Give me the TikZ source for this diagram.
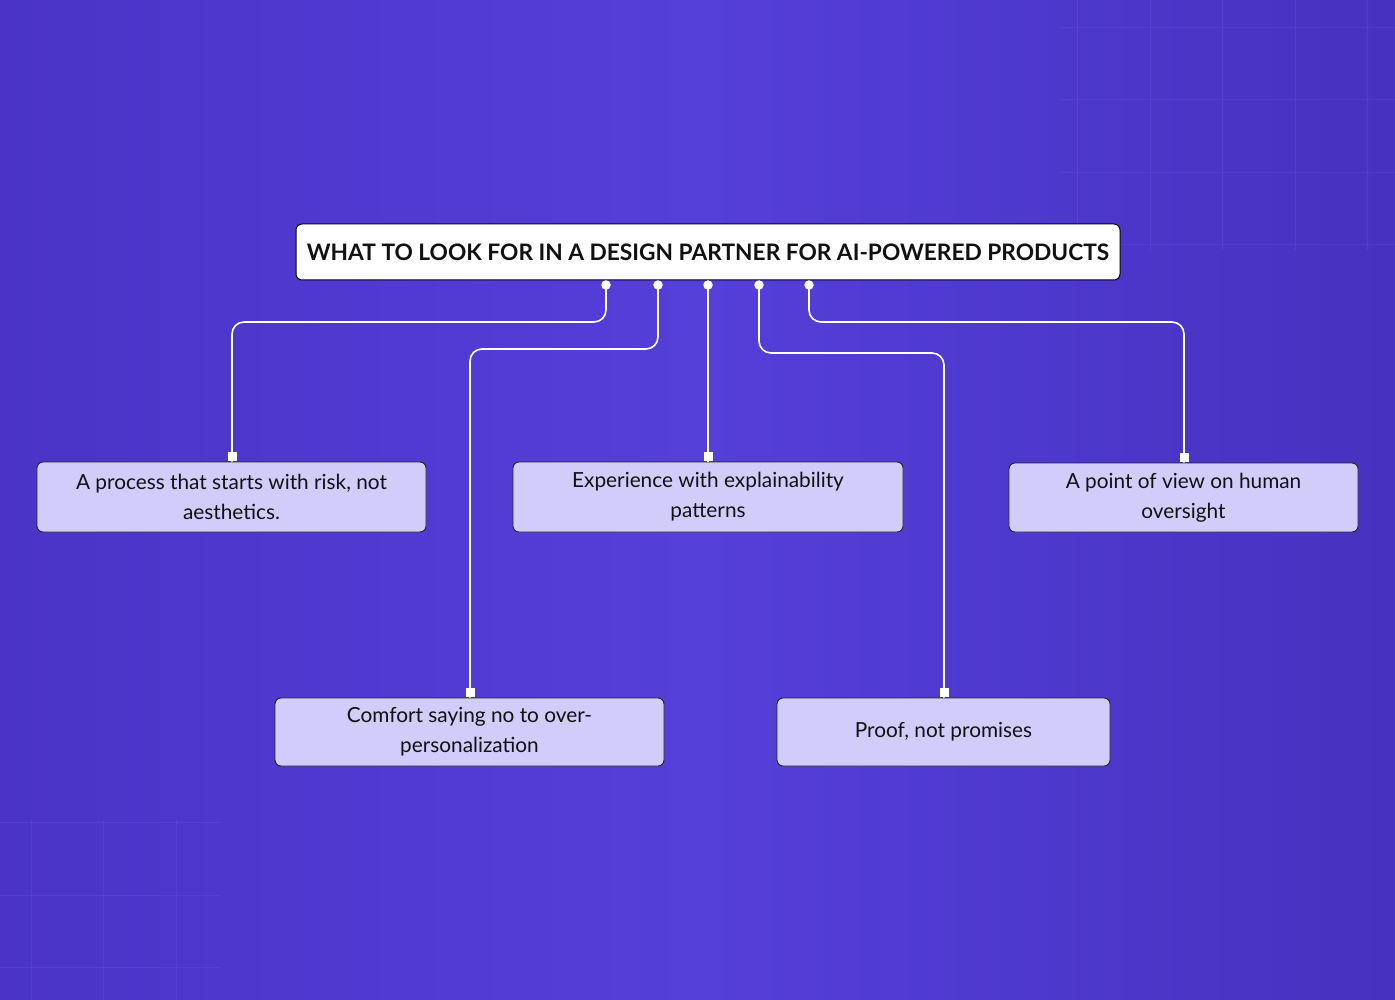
\documentclass[tikz,border=0pt]{standalone}
\usepackage{fontspec}
\setmainfont{Lato}
\usetikzlibrary{shadings}
\definecolor{bgL}{HTML}{4A33C6}
\definecolor{bgM}{HTML}{553FD9}
\definecolor{bgR}{HTML}{4631C0}
\definecolor{boxfill}{HTML}{D2CCFB}
\definecolor{gridc}{HTML}{5E4BDB}
\definecolor{txt}{HTML}{111111}
\tikzset{
  title/.style={draw=black, line width=1pt, fill=white, rounded corners=6pt, minimum width=824pt, minimum height=56pt, inner sep=0pt, font=\fontsize{22.7}{26}\selectfont\bfseries, text=txt},
  item/.style={draw=black!85, line width=0.9pt, fill=boxfill, rounded corners=6pt, minimum height=70pt, inner sep=0pt, align=center, text=txt, font=\fontsize{20.8}{30}\selectfont},
  link/.style={draw=white, line width=1.6pt, rounded corners=12pt},
  dotc/.style={circle, fill=white, inner sep=0pt, minimum size=9.5pt},
  sq/.style={fill=white, inner sep=0pt, minimum size=9pt},
  gridline/.style={draw=gridc, line width=1pt, opacity=0.45}
}
\begin{document}
\begin{tikzpicture}[x=1pt,y=-1pt]
\shade[left color=bgL, right color=bgR, middle color=bgM] (0,0) rectangle (1395,1000);
\useasboundingbox (0,0) rectangle (1395,1000);
% faint grid top right
\foreach \x in {1077,1150,1222,1295,1367} \draw[gridline] (\x,0) -- (\x,250);
\foreach \y in {28,100,173,245} \draw[gridline] (1060,\y) -- (1395,\y);
% faint grid bottom left
\foreach \x in {31,103,176} \draw[gridline] (\x,820) -- (\x,1000);
\foreach \y in {822,895,967} \draw[gridline] (0,\y) -- (220,\y);

\node[title] (T) at (708,252) {WHAT TO LOOK FOR IN A DESIGN PARTNER FOR AI-POWERED PRODUCTS};

\node[item, minimum width=389pt] (A) at (231.5,497) {A process that starts with risk, not\\aesthetics.};
\node[item, minimum width=390pt] (B) at (708,497) {Experience with explainability\\patterns};
\node[item, minimum width=349pt, minimum height=69pt] (C) at (1183.5,497.5) {A point of view on human\\oversight};
\node[item, minimum width=389pt, minimum height=68pt] (D) at (469.5,732) {Comfort saying no to over-\\personalization};
\node[item, minimum width=333pt, minimum height=68pt] (E) at (943.5,732) {Proof, not promises};

\coordinate (p1) at (606,285);
\coordinate (p2) at (658,285);
\coordinate (p3) at (708,285);
\coordinate (p4) at (759,285);
\coordinate (p5) at (809,285);

\draw[link] (p1) |- (232,322) -- (A.north -| 232,0);
\draw[link] (p2) |- (470,349) -- (D.north -| 470,0);
\draw[link] (p3) -- (B.north);
\draw[link] (p4) |- (944,353) -- (E.north -| 944,0);
\draw[link] (p5) |- (1184,322) -- (C.north -| 1184,0);

\foreach \p in {p1,p2,p3,p4,p5} \node[dotc] at (\p) {};
\node[sq, anchor=south] at (A.north -| 232,0) {};
\node[sq, anchor=south] at (B.north) {};
\node[sq, anchor=south] at (C.north -| 1184,0) {};
\node[sq, anchor=south] at (D.north -| 470,0) {};
\node[sq, anchor=south] at (E.north -| 944,0) {};
\end{tikzpicture}
\end{document}
